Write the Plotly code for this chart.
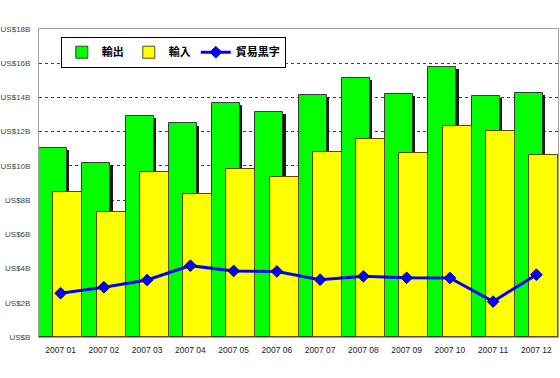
import plotly.graph_objects as go

months = ["2007 01", "2007 02", "2007 03", "2007 04", "2007 05", "2007 06",
          "2007 07", "2007 08", "2007 09", "2007 10", "2007 11", "2007 12"]
exports = [11.04, 10.15, 12.92, 12.48, 13.66, 13.16, 14.12, 15.13, 14.18, 15.79, 14.10, 14.26]
imports = [8.48, 7.28, 9.63, 8.33, 9.82, 9.35, 10.81, 11.59, 10.75, 12.36, 12.03, 10.63]
balance = [2.56, 2.91, 3.33, 4.17, 3.86, 3.83, 3.35, 3.55, 3.46, 3.45, 2.07, 3.64]
ytick_vals = [0, 2, 4, 6, 8, 10, 12, 14, 16, 18]
ytick_text = ["US$B", "US$2B", "US$4B", "US$6B", "US$8B", "US$10B",
              "US$12B", "US$14B", "US$16B", "US$18B"]

shadow_drop = 0.12
fig = go.Figure()
fig.add_trace(go.Bar(x=months, y=[v - shadow_drop for v in exports], offset=-0.45, width=0.65,
                     marker=dict(color="#1a1a1a", line=dict(width=0)),
                     showlegend=False, hoverinfo="skip"))
fig.add_trace(go.Bar(x=months, y=exports, name="輸出", offset=-0.5, width=0.65,
                     marker=dict(color="#00FF00", line=dict(color="#3a3a3a", width=1))))
fig.add_trace(go.Bar(x=months, y=imports, name="輸入", offset=-0.17, width=0.67,
                     marker=dict(color="#FFFF00", line=dict(color="#5a4a00", width=1))))
fig.add_trace(go.Scatter(x=months, y=balance, name="貿易黒字", mode="lines+markers",
                         line=dict(color="#0000FF", width=3),
                         marker=dict(symbol="diamond", size=9, color="#0000FF",
                                     line=dict(color="#000080", width=1))))

fig.update_layout(
    width=560, height=378,
    margin=dict(l=39, r=2, t=29, b=41),
    paper_bgcolor="white", plot_bgcolor="white",
    barmode="overlay", bargap=0,
    font=dict(family="Liberation Sans, Arial, sans-serif", size=9, color="#333333"),
    legend=dict(orientation="h", x=0.042, y=0.975, xanchor="left", yanchor="top",
                bgcolor="white", bordercolor="black", borderwidth=1,
                font=dict(family="Noto Sans CJK JP", size=11, color="black", weight="bold"),
                itemwidth=30, tracegroupgap=0),
    xaxis=dict(type="category", range=[-0.5, 11.5], automargin=False,
               showgrid=False, showline=True, mirror=True,
               linecolor="#a0a0a0", linewidth=1, ticks="", tickfont=dict(size=8.5, color="#222222"),
               ticklabelstandoff=5),
    yaxis=dict(range=[0, 18], tickvals=ytick_vals, ticktext=ytick_text, automargin=False,
               showgrid=True, gridcolor="#404040", griddash="dot", gridwidth=1,
               showline=True, mirror=True, linecolor="#a0a0a0", linewidth=1,
               zeroline=False, ticks="", ticklabelstandoff=6,
               tickfont=dict(size=8, color="#444444")),
)
fig.write_html("out.html", config={"displayModeBar": False},
               post_script="document.body.style.margin='0';document.body.style.overflow='hidden';")
